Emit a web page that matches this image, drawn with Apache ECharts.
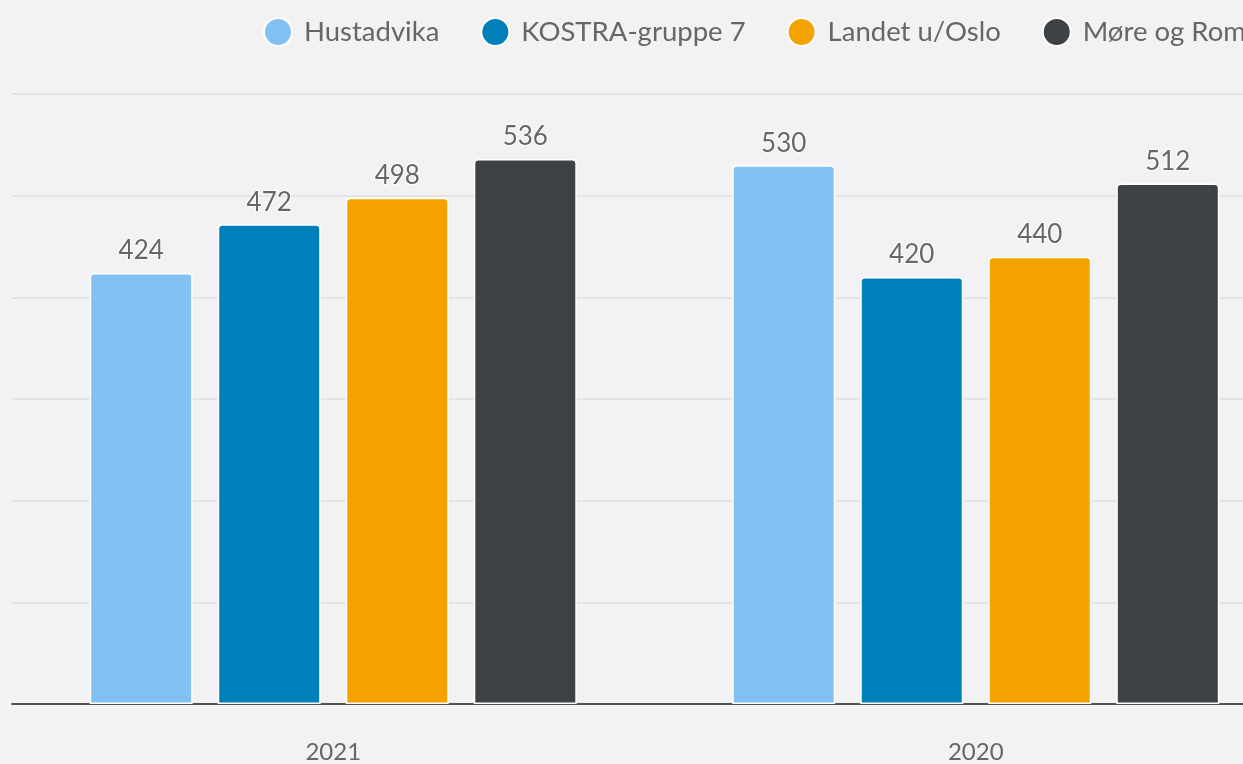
<!DOCTYPE html>
<html>
<head>
<meta charset="utf-8">
<script src="https://cdn.jsdelivr.net/npm/echarts@6/dist/echarts.min.js"></script>
<style>
html,body{margin:0;padding:0;background:#f2f2f4;overflow:hidden;width:1243px;height:764px;}
#c{width:1309px;height:764px;}
</style>
</head>
<body>
<div id="c"></div>
<script>
const categories = ['2021', '2020'];
const seriesNames = ['Hustadvika', 'KOSTRA-gruppe 7', 'Landet u/Oslo', 'Møre og Romsdal'];
const hustadvika = [424, 530];
const kostra7 = [472, 420];
const landetUtenOslo = [498, 440];
const moreOgRomsdal = [536, 512];
const colors = ['#83c0f3', '#0080bb', '#f4a200', '#3e4244'];

const values = [hustadvika, kostra7, landetUtenOslo, moreOgRomsdal];
const font = 'Lato, "Open Sans", sans-serif';

const chart = echarts.init(document.getElementById('c'));
chart.setOption({
  backgroundColor: '#f2f2f4',
  animation: false,
  color: colors,
  textStyle: { fontFamily: font },
  legend: {
    left: 263,
    top: 17,
    width: 1400,
    padding: 0,
    icon: 'circle',
    itemWidth: 28,
    itemHeight: 28,
    itemGap: 41,
    textStyle: { fontSize: 27.5, color: '#666', fontFamily: font, padding: [0, 0, 0, 7] },
    data: seriesNames
  },
  grid: { left: 12, right: 12, top: 94, bottom: 60, containLabel: false },
  xAxis: {
    type: 'category',
    data: categories,
    axisLine: { lineStyle: { color: '#555', width: 2 } },
    axisTick: { show: false },
    axisLabel: { fontSize: 24, color: '#666', margin: 36, fontFamily: font }
  },
  yAxis: {
    type: 'value',
    min: 0, max: 600, interval: 100,
    axisLabel: { show: false },
    axisLine: { show: false },
    axisTick: { show: false },
    splitLine: { lineStyle: { color: '#e4e4e7', width: 2 } }
  },
  series: seriesNames.map((name, i) => ({
    name,
    type: 'bar',
    data: values[i],
    barWidth: 103,
    barGap: '24.3%',
    itemStyle: { color: colors[i], borderColor: '#ffffff', borderWidth: 1.5, borderRadius: [4, 4, 0, 0] },
    label: {
      show: true, position: 'top', distance: 9,
      fontSize: 26, color: '#666', fontFamily: font,
      textBorderColor: '#fff', textBorderWidth: 2
    }
  }))
});
</script>
</body>
</html>
